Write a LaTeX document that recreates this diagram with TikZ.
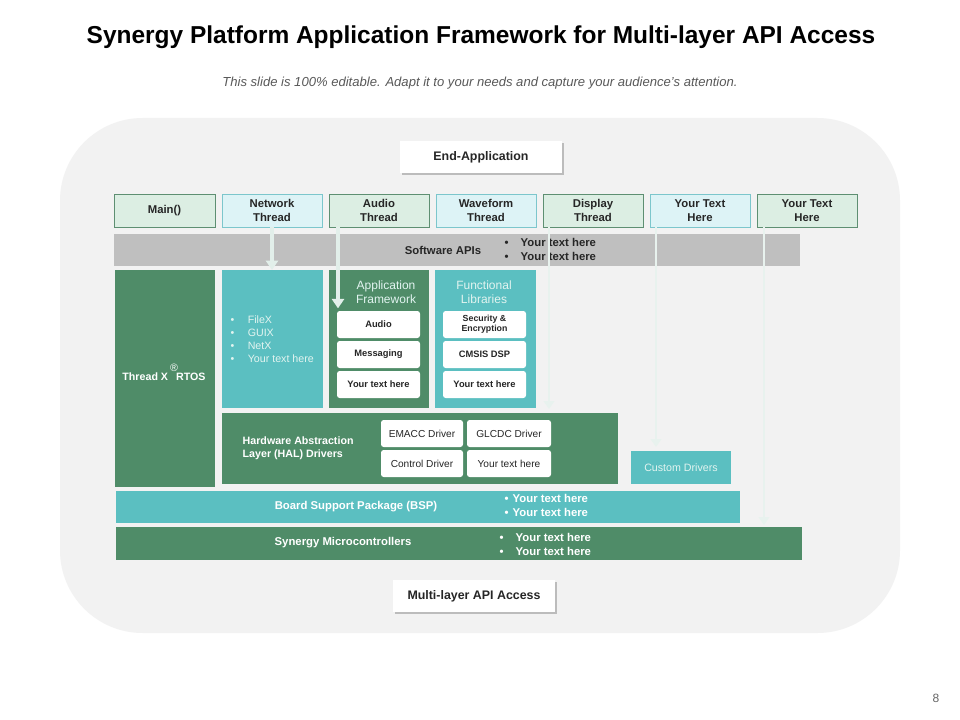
\documentclass[tikz,border=0pt]{standalone}
\usepackage{fontspec}
\setmainfont{Liberation Sans}
\usetikzlibrary{shadows,arrows.meta}
\definecolor{dgreen}{HTML}{4F8C68}
\definecolor{teal2}{HTML}{5BBFC1}
\definecolor{lgreen}{HTML}{DCEEE3}
\definecolor{lgreenb}{HTML}{5E8F72}
\definecolor{lcyan}{HTML}{DDF3F6}
\definecolor{lcyanb}{HTML}{7CC6CC}
\definecolor{apibar}{HTML}{BFBFBF}
\definecolor{panel}{HTML}{F2F2F2}
\definecolor{arrowc}{HTML}{E2EFEA}
\definecolor{txt}{HTML}{262626}
\definecolor{lighttxt}{HTML}{E2F4F0}
\newcommand\bx[7]{\node[inner sep=0pt, outer sep=0pt,
  minimum width={(#4-#2)*0.75pt}, minimum height={(#5-#3)*0.75pt}, #6]
  (#1) at ({(#2+#4)/2},{(#3+#5)/2}) {#7};}
\tikzset{
  thrbox/.style={draw, line width=0.6pt, text=txt, align=center,
    font=\bfseries\fontsize{8.5}{10}\selectfont},
  greenthr/.style={thrbox, draw=lgreenb, fill=lgreen},
  cyanthr/.style={thrbox, draw=lcyanb, fill=lcyan},
  labelbox/.style={fill=white, text=txt, font=\bfseries\fontsize{9.3}{11}\selectfont,
    drop shadow={shadow xshift=1.6pt, shadow yshift=-1.6pt, fill=black!40, opacity=0.6}},
  wbox/.style={fill=white, rounded corners=2pt, text=txt, align=center,
    font=\bfseries\fontsize{7}{8.2}\selectfont},
  hbox/.style={fill=white, rounded corners=2pt, text=txt, align=center,
    font=\fontsize{7.6}{9}\selectfont},
  whitebold/.style={text=white, font=\bfseries\fontsize{8.5}{10.5}\selectfont},
  arr/.style={draw=arrowc, line width=2.3pt, -{Triangle[width=9pt,length=7pt]}},
  arrthin/.style={draw=arrowc!80!white, line width=2pt, -{Triangle[width=8pt,length=6pt]}},
}
\begin{document}
\begin{tikzpicture}[x=0.75pt,y=-0.75pt]
\fill[white] (0,0) rectangle (960,720);
\useasboundingbox (0,0) rectangle (960,720);
% title
\node (title) at (481,37.5) {\bfseries\fontsize{18.35}{22}\selectfont Synergy Platform Application Framework for Multi-layer API Access};
\node[text=black!65, font=\itshape\fontsize{9.8}{11}\selectfont] (sub) at (480,83) {This slide is 100\% editable. Adapt it to your  needs and capture your  audience's attention.};
% panel
\fill[panel, rounded corners=62pt] (60,118) rectangle (900,633);
% labels
\bx{endapp}{400}{141}{562}{173}{labelbox}{End-Application}
\bx{mlapi}{393}{580}{555}{612}{labelbox}{Multi-layer API Access}
% thread row
\bx{main}{114}{194}{215}{227}{greenthr}{Main()}
\bx{net}{222}{194}{322}{227}{cyanthr}{Network\\Thread}
\bx{aud}{329}{194}{429}{227}{greenthr}{Audio\\Thread}
\bx{wav}{436}{194}{536}{227}{cyanthr}{Waveform\\Thread}
\bx{disp}{543}{194}{643}{227}{greenthr}{Display\\Thread}
\bx{yt1}{650}{194}{750}{227}{cyanthr}{Your Text\\Here}
\bx{yt2}{757}{194}{857}{227}{greenthr}{Your Text\\Here}
% software APIs
\bx{api}{114}{234}{800}{266}{fill=apibar}{}
\node[text=txt, font=\bfseries\fontsize{8.5}{10}\selectfont] (apit) at (443,250) {Software APIs};
\node[anchor=west, align=left, text=txt, font=\bfseries\fontsize{8.5}{10.5}\selectfont] (apib) at (500,249)
  {\textbullet\hspace{9pt}Your text here\\\textbullet\hspace{9pt}Your text here};
% RTOS
\bx{rtos}{115}{270}{215}{487}{fill=dgreen}{}
\node[whitebold, font=\bfseries\fontsize{8}{10}\selectfont] (rtost) at (164,377) {Thread X\hspace{6pt}RTOS};
\node[text=white, inner sep=0pt, font=\fontsize{8}{9}\selectfont] (reg) at (174,368) {\textregistered};
% FileX
\bx{filex}{222}{270}{323}{408}{fill=teal2}{}
\node[anchor=west, align=left, text=lighttxt, font=\fontsize{8}{9.75}\selectfont] (filext) at (226,339.5)
  {\textbullet\hspace{10pt}FileX\\\textbullet\hspace{10pt}GUIX\\\textbullet\hspace{10pt}NetX\\\textbullet\hspace{10pt}Your text here};
% Application framework
\bx{appfw}{329}{270}{429}{408}{fill=dgreen}{}
\node[text=lighttxt, align=center, font=\fontsize{9}{10.5}\selectfont] (appfwt) at (386,292) {Application\\Framework};
\bx{af1}{337}{311}{420}{338}{wbox}{Audio}
\bx{af2}{337}{341}{420}{368}{wbox}{Messaging}
\bx{af3}{337}{371}{420}{398}{wbox}{Your text here}
% Functional libraries
\bx{funclib}{435}{270}{536}{408}{fill=teal2}{}
\node[text=lighttxt, align=center, font=\fontsize{9}{10.5}\selectfont] (funct) at (484,292) {Functional\\Libraries};
\bx{fl1}{443}{311}{526}{338}{wbox, font=\bfseries\fontsize{6.6}{7.8}\selectfont}{Security \&\\Encryption}
\bx{fl2}{443}{341}{526}{368}{wbox}{CMSIS DSP}
\bx{fl3}{443}{371}{526}{398}{wbox}{Your text here}
% HAL
\bx{hal}{222}{413}{618}{484}{fill=dgreen}{}
\node[anchor=west, align=left, whitebold, font=\bfseries\fontsize{8}{9.8}\selectfont] (halt) at (238,448) {Hardware Abstraction\\Layer (HAL)  Drivers};
\bx{h1}{381}{420}{463}{447}{hbox}{EMACC  Driver}
\bx{h2}{467}{420}{551}{447}{hbox}{GLCDC Driver}
\bx{h3}{381}{450}{463}{477}{hbox}{Control Driver}
\bx{h4}{467}{450}{551}{477}{hbox}{Your text here}
% custom drivers
\bx{cust}{631}{451}{731}{484}{fill=teal2, text=lighttxt, font=\fontsize{8}{10}\selectfont}{Custom Drivers}
% BSP
\bx{bsp}{116}{491}{740}{523}{fill=teal2}{}
\node[whitebold] (bspt) at (356,507) {Board Support Package (BSP)};
\node[anchor=west, align=left, whitebold, font=\bfseries\fontsize{8.5}{10.5}\selectfont] (bspb) at (500,505)
  {\textbullet\hspace{3pt}Your text here\\\textbullet\hspace{3pt}Your text here};
% Synergy
\bx{syn}{116}{527}{802}{560}{fill=dgreen}{}
\node[whitebold] (synt) at (343,543) {Synergy Microcontrollers};
\node[anchor=west, align=left, whitebold, font=\bfseries\fontsize{8.5}{10.5}\selectfont] (synb) at (495,544)
  {\textbullet\hspace{9pt}Your text here\\\textbullet\hspace{9pt}Your text here};
% arrows
\draw[arr] (net.south) -- (net.south |- filex.north);
\draw[arr, shorten >=2pt] ([xshift=6.75pt]aud.south west) -- ([xshift=6.75pt]aud.south west |- af1.north);
\draw[arrthin, shorten >=3pt] ([xshift=4.5pt]disp.south west) -- ([xshift=4.5pt]disp.south west |- hal.north);
\draw[arrthin, shorten >=3pt] ([xshift=4.5pt]yt1.south west) -- ([xshift=4.5pt]yt1.south west |- cust.north);
\draw[arrthin, shorten >=1.5pt] ([xshift=5.25pt]yt2.south west) -- ([xshift=5.25pt]yt2.south west |- syn.north);
% page number
\node[text=black!60, font=\fontsize{9}{11}\selectfont] (pnum) at (936,698) {8};
\end{tikzpicture}
\end{document}
